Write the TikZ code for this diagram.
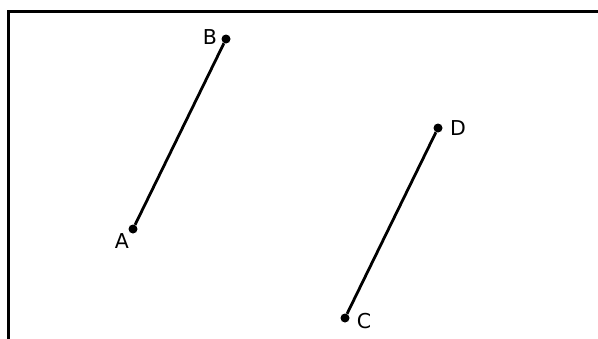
\documentclass[tikz,border=0pt]{standalone}
\usepackage{fontspec}
\setmainfont{DejaVu Sans}
\begin{document}
\begin{tikzpicture}[x=1pt,y=-1pt,
  pt/.style={circle,fill=black,inner sep=0pt,minimum size=9pt},
  lbl/.style={font=\fontsize{20.5}{23}\selectfont,inner sep=0pt},
  seg/.style={line width=2.8pt},
  frame/.style={line width=2.4pt}]
\useasboundingbox (0,0) rectangle (598,338);
\draw[frame] (8.5,340) -- (8.5,11.5) -- (600,11.5);
\node[pt] (A) at (133,229) {};
\node[pt] (B) at (226,39) {};
\node[pt] (C) at (345,318) {};
\node[pt] (D) at (438,128) {};
\draw[seg] (A) -- (B);
\draw[seg] (C) -- (D);
\node[lbl] (lA) at (122,241) {A};
\node[lbl] (lB) at (210,37) {B};
\node[lbl] (lC) at (364,321) {C};
\node[lbl] (lD) at (458,128) {D};
\end{tikzpicture}
\end{document}
